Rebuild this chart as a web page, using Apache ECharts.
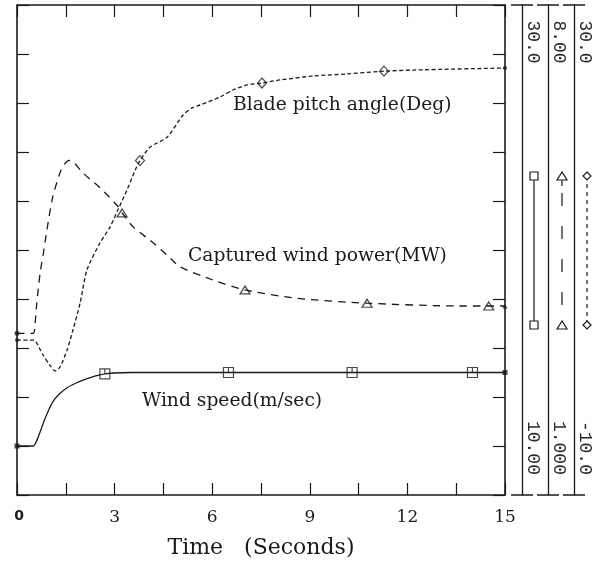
<!DOCTYPE html>
<html><head><meta charset="utf-8">
<script src="https://cdn.jsdelivr.net/npm/echarts@6/dist/echarts.min.js"></script>
<style>html,body{margin:0;padding:0;background:#fff}#c{width:606px;height:568px}</style>
</head><body><div id="c"></div>
<script>
// ---- data ----
const xTickValues = [0, 3, 6, 9, 12, 15];

const windT = [0, 0.5, 0.6, 0.71, 0.82, 0.92, 1.1, 1.3, 1.54, 1.8, 2.03, 2.3, 2.55, 2.7, 3.0, 3.5, 4.5, 15];
const windV = [12.0, 12.0, 12.2, 12.57, 12.98, 13.31, 13.8, 14.12, 14.38, 14.56, 14.69, 14.81, 14.9, 14.94, 14.98, 15.0, 15.0, 15.0];

const powerT = [0, 0.5, 0.55, 0.6, 0.71, 0.82, 0.92, 1.1, 1.32, 1.45, 1.6, 1.75, 2.03, 2.55, 3.07, 3.23, 3.57, 4.09, 4.61, 5.01, 6.03, 7.01, 8.61, 10.76, 13.6, 15];
const powerV = [3.31, 3.31, 3.42, 3.7, 4.17, 4.48, 4.79, 5.26, 5.6, 5.72, 5.78, 5.75, 5.6, 5.39, 5.14, 5.03, 4.83, 4.64, 4.43, 4.26, 4.07, 3.93, 3.81, 3.74, 3.7, 3.7];

const pitchT = [0, 0.5, 0.8, 1.01, 1.17, 1.32, 1.54, 1.72, 1.94, 2.15, 2.55, 2.86, 3.1, 3.38, 3.63, 3.78, 4.09, 4.61, 5.1, 5.38, 5.63, 6.24, 6.64, 7.07, 7.53, 8.08, 9.1, 10.14, 11.28, 12.17, 15];
const pitchV = [2.65, 2.65, 1.43, 0.61, 0.12, 0.45, 1.84, 3.47, 5.67, 8.37, 10.57, 11.88, 13.27, 14.9, 16.5, 17.3, 18.4, 19.2, 21.0, 21.6, 21.84, 22.49, 23.06, 23.47, 23.63, 23.88, 24.2, 24.37, 24.6, 24.69, 24.86];

const windMarkT = [2.7, 6.5, 10.3, 14.0];
const windMarkV = [14.94, 15.0, 15.0, 15.0];
const powerMarkT = [3.23, 7.01, 10.76, 14.5];
const powerMarkV = [5.03, 3.93, 3.74, 3.7];
const pitchMarkT = [3.78, 7.53, 11.28];
const pitchMarkV = [17.3, 23.63, 24.6];

const windScale = [10, 30];
const powerScale = [1, 8];
const pitchScale = [-10, 30];
const windLabels = ['10.00', '30.0'];
const powerLabels = ['1.000', '8.00'];
const pitchLabels = ['-10.0', '30.0'];

const seriesNames = ['Wind speed(m/sec)', 'Captured wind power(MW)', 'Blade pitch angle(Deg)'];
const xName = 'Time   (Seconds)';

// ---- chart ----
const INK = '#1a1a1a';
const SERIF = '"DejaVu Serif", "Liberation Serif", serif';
const pair = (ts, vs) => ts.map((t, i) => [t, vs[i]]);
const ends = (ts, vs, s0, s1) => [
  { value: [ts[0], vs[0]], symbol: s0 },
  { value: [ts[ts.length - 1], vs[vs.length - 1]], symbol: s1 }
];

const frameLine = { show: true, onZero: false, lineStyle: { color: INK, width: 1.6 } };
const frameTick = { show: true, inside: true, length: 12, lineStyle: { color: INK, width: 1.2 } };

const xBase = { type: 'value', min: 0, max: 15, interval: 1.5, splitLine: { show: false },
  axisLine: frameLine, axisTick: frameTick };
const yFrame = { type: 'value', min: windScale[0], max: windScale[1], interval: 2,
  splitLine: { show: false }, axisLabel: { show: false }, axisLine: frameLine, axisTick: frameTick };

function scaleAxis(sc, labels, offset) {
  const span = sc[1] - sc[0];
  const lo = sc[0] + 0.096 * span, hi = sc[1] - 0.0755 * span;
  return {
    type: 'value', min: sc[0], max: sc[1], position: 'right', offset: offset,
    splitLine: { show: false }, axisTick: { show: false },
    axisLine: { show: true, onZero: false, symbol: ['rect', 'rect'], symbolSize: [22, 1.5],
      lineStyle: { color: INK, width: 1.3 } },
    axisLabel: { show: true, customValues: [lo, hi], rotate: -90, margin: 2,
      fontFamily: '"Liberation Mono", monospace', fontSize: 18, color: '#2a2a2a',
      formatter: v => (v > (sc[0] + sc[1]) / 2 ? labels[1] : labels[0]) }
  };
}

const sqPath = 'path://M0,0L10,0L10,10L0,10Z M5,0L5,5';
const hollow = { color: 'rgba(0,0,0,0)', borderColor: INK, borderWidth: 1.2 };
const lineCommon = { type: 'line', xAxisIndex: 0, symbol: 'none', smooth: 0.25,
  silent: true, z: 3 };

const option = {
  animation: false,
  backgroundColor: '#fff',
  grid: { left: 17, right: 101, top: 5, bottom: 73, containLabel: false },
  xAxis: [
    Object.assign({}, xBase, { position: 'bottom',
      axisLabel: { show: true, customValues: xTickValues, margin: 14, fontFamily: SERIF, fontSize: 17, color: INK,
        formatter: v => (v === 0 ? '{z|0}' : String(v)),
        rich: { z: { fontFamily: '"DejaVu Sans", sans-serif', fontWeight: 'bold', fontSize: 14, color: INK, padding: [0, 0, 0, 4] } } },
      name: xName, nameLocation: 'middle', nameGap: 42,
      nameTextStyle: { fontFamily: SERIF, fontSize: 22, color: INK } }),
    Object.assign({}, xBase, { position: 'top', axisLabel: { show: false } })
  ],
  yAxis: [
    Object.assign({}, yFrame, { position: 'left' }),
    Object.assign({}, yFrame, { position: 'right' }),
    scaleAxis(windScale, windLabels, 17),
    scaleAxis(powerScale, powerLabels, 43),
    scaleAxis(pitchScale, pitchLabels, 69)
  ],
  series: [
    Object.assign({}, lineCommon, { name: seriesNames[0], yAxisIndex: 2, data: pair(windT, windV),
      lineStyle: { color: INK, width: 1.3, type: 'solid' } }),
    Object.assign({}, lineCommon, { name: seriesNames[1], yAxisIndex: 3, data: pair(powerT, powerV),
      lineStyle: { color: INK, width: 1.3, type: [7.5, 6] } }),
    Object.assign({}, lineCommon, { name: seriesNames[2], yAxisIndex: 4, data: pair(pitchT, pitchV),
      lineStyle: { color: INK, width: 1.3, type: [4, 2.5] } }),
    { type: 'scatter', yAxisIndex: 2, data: pair(windMarkT, windMarkV), symbol: sqPath, symbolSize: 10,
      itemStyle: hollow, silent: true, z: 5 },
    { type: 'scatter', yAxisIndex: 3, data: pair(powerMarkT, powerMarkV), symbol: 'triangle', symbolSize: [10, 8],
      itemStyle: hollow, silent: true, z: 5 },
    { type: 'scatter', yAxisIndex: 4, data: pair(pitchMarkT, pitchMarkV), symbol: 'diamond', symbolSize: [9, 10],
      itemStyle: hollow, silent: true, z: 5 },
    { type: 'scatter', yAxisIndex: 2, data: ends(windT, windV, 'rect', 'rect'), symbolSize: 5,
      itemStyle: { color: INK }, silent: true, z: 5, clip: false },
    { type: 'scatter', yAxisIndex: 3, data: ends(powerT, powerV, 'circle', 'triangle'), symbolSize: 5,
      itemStyle: { color: INK }, silent: true, z: 5, clip: false },
    { type: 'scatter', yAxisIndex: 4, data: ends(pitchT, pitchV, 'circle', 'circle'), symbolSize: 4,
      itemStyle: { color: INK }, silent: true, z: 5, clip: false }
  ],
  graphic: [
    { type: 'text', left: 233, top: 96, style: { text: seriesNames[2], font: '18.7px ' + SERIF, fill: INK } },
    { type: 'text', left: 188, top: 247, style: { text: seriesNames[1], font: '18.7px ' + SERIF, fill: INK } },
    { type: 'text', left: 142, top: 392, style: { text: seriesNames[0], font: '18.7px ' + SERIF, fill: INK } },
    // legend key samples on the right
    { type: 'line', shape: { x1: 534, y1: 176, x2: 534, y2: 325 }, style: { stroke: INK, lineWidth: 1.2 } },
    { type: 'rect', shape: { x: 530, y: 172, width: 8, height: 8 }, style: { stroke: INK, fill: '#fff', lineWidth: 1.2 } },
    { type: 'rect', shape: { x: 530, y: 321, width: 8, height: 8 }, style: { stroke: INK, fill: '#fff', lineWidth: 1.2 } },
    { type: 'line', shape: { x1: 562, y1: 193, x2: 562, y2: 325 }, style: { stroke: INK, lineWidth: 1.2, lineDash: [13, 20] } },
    { type: 'line', shape: { x1: 562, y1: 176, x2: 562, y2: 186 }, style: { stroke: INK, lineWidth: 1.2 } },
    { type: 'polygon', shape: { points: [[562, 172], [557, 180], [567, 180]] }, style: { stroke: INK, fill: '#fff', lineWidth: 1.2 } },
    { type: 'polygon', shape: { points: [[562, 321], [557, 329], [567, 329]] }, style: { stroke: INK, fill: '#fff', lineWidth: 1.2 } },
    { type: 'line', shape: { x1: 587, y1: 176, x2: 587, y2: 325 }, style: { stroke: INK, lineWidth: 1.2, lineDash: [4, 4] } },
    { type: 'polygon', shape: { points: [[587, 172], [591, 176], [587, 180], [583, 176]] }, style: { stroke: INK, fill: '#fff', lineWidth: 1.2 } },
    { type: 'polygon', shape: { points: [[587, 321], [591, 325], [587, 329], [583, 325]] }, style: { stroke: INK, fill: '#fff', lineWidth: 1.2 } }
  ]
};
const chart = echarts.init(document.getElementById('c'));
chart.setOption(option);
</script></body></html>
